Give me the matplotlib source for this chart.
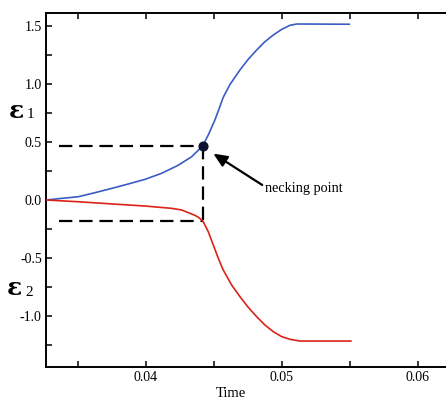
import matplotlib
matplotlib.use("Agg")
import matplotlib.pyplot as plt
from matplotlib.ticker import MultipleLocator

# ---- data ----
time_e1 = [0.03265, 0.0338, 0.03502, 0.03625, 0.03748, 0.0387, 0.03993, 0.04115,
           0.04238, 0.04336, 0.04417, 0.04458, 0.04507, 0.04539, 0.04568, 0.04618,
           0.04691, 0.04752, 0.04814, 0.04875, 0.04936, 0.04998, 0.05059, 0.05108,
           0.05157, 0.05495]
eps1 = [0.0, 0.014, 0.028, 0.063, 0.10, 0.138, 0.178, 0.23,
        0.30, 0.373, 0.466, 0.560, 0.690, 0.790, 0.885, 0.996,
        1.121, 1.213, 1.293, 1.365, 1.422, 1.471, 1.506, 1.517,
        1.517, 1.515]

time_e2 = [0.03265, 0.03502, 0.03748, 0.03993, 0.04189, 0.04262, 0.04311, 0.0436,
           0.04385, 0.04417, 0.04458, 0.04495, 0.04532, 0.04568, 0.0463, 0.04691,
           0.04752, 0.04814, 0.04875, 0.04936, 0.04998, 0.05059, 0.05132, 0.05507]
eps2 = [0.0, -0.015, -0.034, -0.052, -0.072, -0.086, -0.109, -0.132,
        -0.149, -0.178, -0.273, -0.388, -0.503, -0.603, -0.733, -0.833,
        -0.925, -1.006, -1.078, -1.135, -1.178, -1.201, -1.216, -1.216]

neck_t = 0.04417
neck_e1 = 0.466
neck_e2 = -0.178
dash_start = 0.0336

xticks = [0.04, 0.05, 0.06]
xtick_labels = ["0.04", "0.05", "0.06"]
yticks = [-1.0, -0.5, 0.0, 0.5, 1.0, 1.5]
ytick_labels = ["-1.0", "-0.5", "0.0", "0.5", "1.0", "1.5"]

serif = ["Liberation Serif", "DejaVu Serif"]
plt.rcParams["font.family"] = serif

W, H = 446, 399
fig = plt.figure(figsize=(W / 100, H / 100), dpi=100)
ax = fig.add_axes([46 / W, 1 - 367 / H, (W - 46) / W, (367 - 13) / H])

ax.plot(time_e1, eps1, color="#3a5cc4", lw=1.2, zorder=3)
ax.plot(time_e2, eps2, color="#dc2317", lw=1.2, zorder=3)

dash = dict(color="black", lw=1.6, dashes=(6.0, 3.1), zorder=2)
ax.plot([dash_start, neck_t], [neck_e1, neck_e1], **dash)
ax.plot([dash_start, neck_t], [neck_e2, neck_e2], **dash)
ax.plot([neck_t, neck_t], [neck_e1, neck_e2], **dash)

ax.plot([neck_t], [neck_e1], "o", color="#0d1230", ms=6.3, zorder=4)

ax.annotate("necking point", xy=(0.04495, 0.40), xytext=(0.04875, 0.103),
            fontsize=10.3, va="center", ha="left", family=serif,
            arrowprops=dict(arrowstyle="-|>,head_length=0.8,head_width=0.35",
                            color="black", lw=1.6, shrinkA=0, shrinkB=0,
                            relpos=(0.0, 0.6)))

ax.set_xlim(0.03265, 0.03265 + 400 / 13600)
ax.set_ylim(-1.4397, 1.612)
ax.set_xticks(xticks)
ax.set_xticklabels(xtick_labels)
ax.set_yticks(yticks)
ax.set_yticklabels(ytick_labels)
ax.xaxis.set_minor_locator(MultipleLocator(0.005))
ax.yaxis.set_minor_locator(MultipleLocator(0.25))
ax.tick_params(which="both", direction="in", length=4, width=1.1,
               top=True, right=False, labelsize=10, pad=3)
ax.spines["right"].set_visible(False)
for s in ["left", "top", "bottom"]:
    ax.spines[s].set_linewidth(1.4)

ax.set_xlabel("Time", fontsize=10.5, labelpad=2)
ax.xaxis.set_label_coords((231 - 46) / (W - 46), -(393 - 367 - 6) / (367 - 13))

eps_font = ["DejaVu Serif"]
fig.text(9 / W, 1 - 111 / H, "ε", fontsize=18, fontweight="bold",
         ha="left", va="center", family=eps_font)
fig.text(27 / W, 1 - 115 / H, "1", fontsize=11, ha="left", va="center", family=serif)
fig.text(7 / W, 1 - 288 / H, "ε", fontsize=18, fontweight="bold",
         ha="left", va="center", family=eps_font)
fig.text(25 / W, 1 - 292 / H, "2", fontsize=11, ha="left", va="center", family=serif)

fig.savefig("out.png", dpi=100)
